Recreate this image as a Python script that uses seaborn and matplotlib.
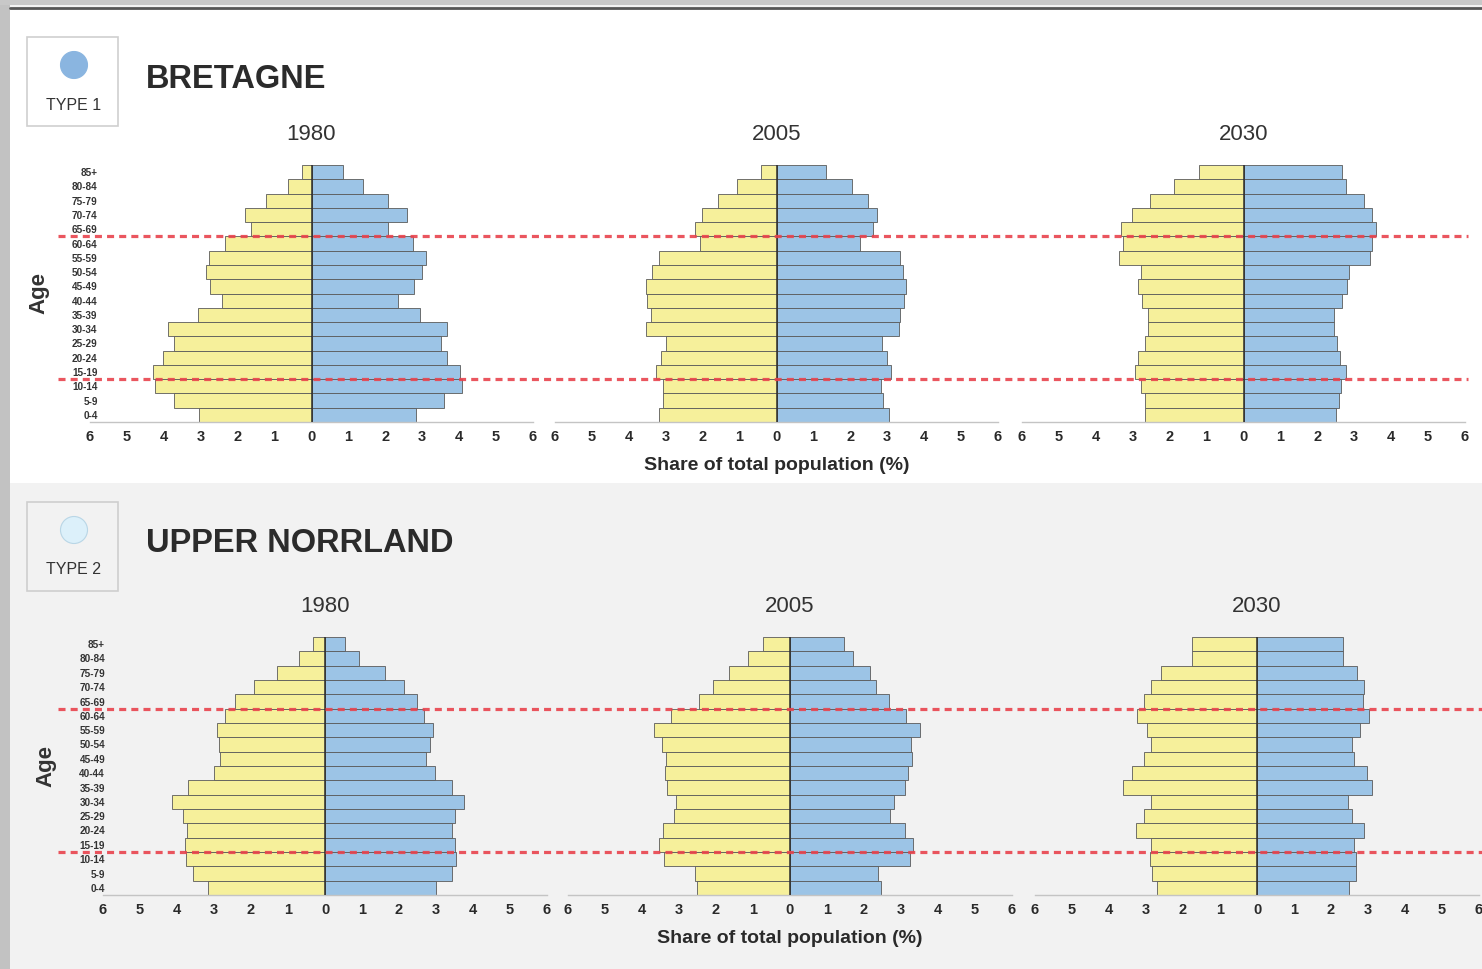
import matplotlib
matplotlib.use("Agg")
import matplotlib.pyplot as plt
import matplotlib.transforms as mtransforms
from matplotlib.patches import Rectangle, Ellipse
from matplotlib.lines import Line2D
import pandas as pd
import seaborn as sns

# --- Data: share of total population (%), listed from 0-4 up to 85+ ---
ages = ["0-4", "5-9", "10-14", "15-19", "20-24", "25-29", "30-34", "35-39",
        "40-44", "45-49", "50-54", "55-59", "60-64", "65-69", "70-74",
        "75-79", "80-84", "85+"]
years = ["1980", "2005", "2030"]
cut_ages = ["15-19", "65-69"]  # dashed lines drawn below these groups

bre_1980_men = [3.05, 3.73, 4.25, 4.30, 4.01, 3.73, 3.89, 3.08, 2.43, 2.75,
                2.87, 2.79, 2.34, 1.64, 1.79, 1.23, 0.63, 0.27]
bre_1980_women = [2.82, 3.59, 4.08, 4.02, 3.66, 3.51, 3.66, 2.94, 2.35, 2.77,
                  3.00, 3.09, 2.76, 2.07, 2.58, 2.07, 1.40, 0.86]
bre_2005_men = [3.17, 3.08, 3.08, 3.26, 3.14, 2.99, 3.53, 3.40, 3.50, 3.53,
                3.38, 3.17, 2.06, 2.21, 2.03, 1.58, 1.07, 0.42]
bre_2005_women = [3.06, 2.89, 2.82, 3.09, 2.98, 2.86, 3.32, 3.34, 3.45, 3.50,
                  3.43, 3.34, 2.26, 2.62, 2.71, 2.48, 2.05, 1.33]
bre_2030_men = [2.67, 2.67, 2.79, 2.95, 2.85, 2.67, 2.58, 2.58, 2.76, 2.86,
                2.79, 3.36, 3.27, 3.32, 3.02, 2.52, 1.87, 1.20]
bre_2030_women = [2.50, 2.59, 2.63, 2.79, 2.61, 2.54, 2.45, 2.45, 2.68, 2.81,
                  2.86, 3.42, 3.49, 3.60, 3.49, 3.26, 2.77, 2.68]

nor_1980_men = [3.16, 3.57, 3.76, 3.79, 3.72, 3.83, 4.13, 3.69, 3.00, 2.83,
                2.86, 2.92, 2.70, 2.42, 1.93, 1.30, 0.69, 0.32]
nor_1980_women = [3.00, 3.44, 3.53, 3.52, 3.44, 3.50, 3.75, 3.42, 2.96, 2.73,
                  2.85, 2.91, 2.68, 2.49, 2.14, 1.61, 0.91, 0.54]
nor_2005_men = [2.52, 2.56, 3.41, 3.55, 3.44, 3.13, 3.08, 3.33, 3.38, 3.35,
                3.46, 3.67, 3.22, 2.45, 2.07, 1.66, 1.14, 0.72]
nor_2005_women = [2.46, 2.37, 3.23, 3.33, 3.12, 2.70, 2.82, 3.12, 3.18, 3.30,
                  3.27, 3.51, 3.14, 2.67, 2.32, 2.16, 1.69, 1.47]
nor_2030_men = [2.71, 2.85, 2.89, 2.86, 3.28, 3.05, 2.86, 3.61, 3.37, 3.05,
                2.86, 2.98, 3.23, 3.05, 2.86, 2.59, 1.77, 1.77]
nor_2030_women = [2.49, 2.67, 2.67, 2.63, 2.90, 2.58, 2.45, 3.12, 2.96, 2.63,
                  2.56, 2.78, 3.03, 2.87, 2.90, 2.69, 2.33, 2.33]

# --- Style ---
sns.set_theme(style="white")
plt.rcParams["font.family"] = ["Liberation Sans", "DejaVu Sans"]
NARROW = ["Liberation Sans Narrow", "Liberation Sans", "DejaVu Sans"]

YELLOW = "#f6f09b"
BLUE = "#9cc4e6"
EDGE = "#5a5a5a"
RED = "#e8434d"
GREY_BG = "#f2f2f2"

W, H = 1482, 969
fig = plt.figure(figsize=(W / 100, H / 100), dpi=100)
fig.patch.set_facecolor(GREY_BG)


def fx(px):
    return px / W


def fy(py):
    return 1 - py / H


# page frame: white top panel, grey strips at the edges
fig.add_artist(Rectangle((0, fy(483)), 1, fy(10) - fy(483), transform=fig.transFigure,
                         facecolor="white", edgecolor="none", zorder=-10))
fig.add_artist(Rectangle((0, 0), fx(10), 1, transform=fig.transFigure,
                         facecolor="#c2c2c2", edgecolor="none", zorder=-9))
fig.add_artist(Rectangle((0, fy(5)), 1, 1 - fy(5), transform=fig.transFigure,
                         facecolor="#c8c8c8", edgecolor="none", zorder=-9))
fig.add_artist(Line2D([fx(10), 1], [fy(7.5), fy(7.5)], transform=fig.transFigure,
                      color="#555555", lw=2))


def draw_pyramid(ax, men, women, year, first, label_pad):
    order = ages[::-1]
    df = pd.DataFrame({"age": ages, "men": [-v for v in men], "women": women})
    sns.barplot(data=df, x="men", y="age", order=order, orient="h", color=YELLOW,
                saturation=1, width=1, edgecolor=EDGE, linewidth=0.6, ax=ax)
    sns.barplot(data=df, x="women", y="age", order=order, orient="h", color=BLUE,
                saturation=1, width=1, edgecolor=EDGE, linewidth=0.6, ax=ax)
    ax.axvline(0, color="#2b2b2b", lw=1.1, zorder=5)
    ax.set_xlim(-6, 6)
    ax.set_ylim(len(ages) - 0.5, -0.5)
    ax.set_xticks(range(-6, 7))
    ax.set_xticklabels([str(abs(t)) for t in range(-6, 7)], family=NARROW,
                       fontweight="bold", fontsize=10.5, color="#2a2a2a")
    ax.tick_params(axis="x", direction="in", length=3, width=0.8, color="#b5b5b5", pad=6)
    ax.set_facecolor("none")
    sns.despine(ax=ax, left=True)
    ax.spines["bottom"].set_color("#c4c4c4")
    ax.spines["bottom"].set_linewidth(1.0)
    ax.set_title(year, fontsize=16, color="#333333", pad=18)
    ax.set_xlabel("")
    if first:
        ax.set_yticks(range(len(order)))
        ax.set_yticklabels(order, family=NARROW, fontweight="bold", fontsize=7.2,
                           color="#333333")
        ax.tick_params(axis="y", length=0, pad=label_pad)
        ax.set_ylabel("Age", fontsize=16, fontweight="bold", color="#333333")
    else:
        ax.set_yticks([])
        ax.set_ylabel("")


def draw_region(name, type_label, dot_color, dot_edge, box_face, top_px, series,
                ax_lefts, ax_width, ax_top, ax_bottom, label_pad, age_x, line_end):
    # legend-style badge and region heading
    fig.add_artist(Rectangle((fx(27), fy(top_px + 89)), fx(91), fy(top_px) - fy(top_px + 89),
                             transform=fig.transFigure, facecolor=box_face,
                             edgecolor="#cfcfcf", lw=1.2))
    fig.add_artist(Ellipse((fx(74), fy(top_px + 28)), fx(27), 27 / H,
                           transform=fig.transFigure, facecolor=dot_color,
                           edgecolor=dot_edge, lw=0.8))
    fig.text(fx(74), fy(top_px + 68), type_label, ha="center", va="center",
             fontsize=11.5, color="#333333")
    fig.text(fx(146), fy(top_px + 42), name, ha="left", va="center",
             fontsize=23.5, fontweight="bold", color="#2b2b2b")

    axes = []
    for i, (year, (men, women)) in enumerate(zip(years, series)):
        ax = fig.add_axes([fx(ax_lefts[i]), fy(ax_bottom), fx(ax_width),
                           fy(ax_top) - fy(ax_bottom)])
        draw_pyramid(ax, men, women, year, i == 0, label_pad)
        axes.append(ax)
    axes[0].yaxis.set_label_coords((age_x - ax_lefts[0]) / ax_width, 0.5)
    axes[1].set_xlabel("Share of total population (%)", family=NARROW,
                       fontweight="bold", fontsize=14, color="#2a2a2a", labelpad=9)

    # dashed age thresholds across the whole row
    order = ages[::-1]
    trans = mtransforms.blended_transform_factory(fig.transFigure, axes[0].transData)
    for a in cut_ages:
        y = order.index(a) + 0.5
        fig.add_artist(Line2D([fx(58), fx(line_end)], [y, y], transform=trans,
                              color=RED, lw=2.3, dashes=(2.2, 1.6), alpha=0.9,
                              zorder=20))


draw_region("BRETAGNE", "TYPE 1", "#8ab5e0", "#8ab5e0", "white", 37,
            [(bre_1980_men, bre_1980_women), (bre_2005_men, bre_2005_women),
             (bre_2030_men, bre_2030_women)],
            [90, 555, 1022], 443, 165, 422, -5.5, 49, 1468)

draw_region("UPPER NORRLAND", "TYPE 2", "#dcf0fa", "#b9d6e6", GREY_BG, 502,
            [(nor_1980_men, nor_1980_women), (nor_2005_men, nor_2005_women),
             (nor_2030_men, nor_2030_women)],
            [103, 568, 1035], 444, 637, 895, -1.5, 56, 1482)

fig.savefig("out.png", dpi=100, facecolor=fig.get_facecolor())
